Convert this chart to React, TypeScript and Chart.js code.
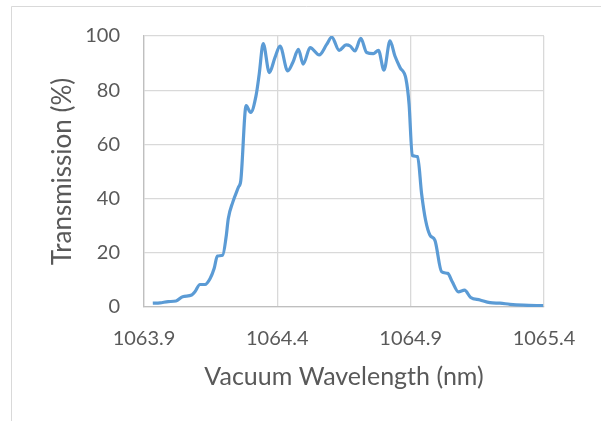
import React, { useEffect, useRef } from "react";
import { Chart, registerables } from "chart.js";

Chart.register(...registerables);

const wavelength = [
  1063.933, 1063.96, 1063.991, 1064.02, 1064.045, 1064.079, 1064.091, 1064.11, 1064.129, 1064.148,
  1064.163, 1064.175, 1064.195, 1064.208, 1064.216, 1064.233, 1064.254, 1064.263, 1064.283, 1064.3,
  1064.32, 1064.332, 1064.347, 1064.37, 1064.391, 1064.41, 1064.439, 1064.458, 1064.479, 1064.497,
  1064.523, 1064.557, 1064.585, 1064.604, 1064.632, 1064.658, 1064.673, 1064.691, 1064.713, 1064.735,
  1064.76, 1064.779, 1064.8, 1064.8225, 1064.841, 1064.86, 1064.8825, 1064.894, 1064.906, 1064.926,
  1064.941, 1064.956, 1064.9725, 1064.991, 1065.016, 1065.039, 1065.056, 1065.079, 1065.102, 1065.125,
  1065.16, 1065.1975, 1065.235, 1065.2725, 1065.3225, 1065.397,
];

const transmission = [
  1.4, 1.5, 2.0, 2.2, 3.8, 4.4, 5.6, 8.3, 8.3, 10.5,
  14.2, 18.8, 19.1, 25.9, 32.6, 38.7, 44.2, 46.7, 74.3, 71.8,
  77.9, 85.9, 97.2, 86.5, 92.0, 96.3, 87.1, 90.2, 95.1, 89.6,
  95.7, 93.0, 96.9, 99.6, 94.7, 96.7, 96.3, 94.5, 99.1, 93.9,
  93.5, 94.7, 87.4, 98.2, 92.6, 88.4, 84.1, 74.9, 55.9, 55.5,
  41.8, 32.0, 26.5, 24.6, 13.0, 12.4, 9.3, 5.6, 6.2, 3.5,
  2.6, 1.6, 1.4, 1.0, 0.7, 0.5,
];

const xTicks = [1063.9, 1064.4, 1064.9, 1065.4];
const yTicks = [0, 20, 40, 60, 80, 100];

const xTitle = "Vacuum Wavelength (nm)";
const yTitle = "Transmission (%)";

const FONT = "Lato, 'Open Sans', sans-serif";
const TEXT = "#595959";

const framePlugin = {
  id: "frame",
  beforeDraw(chart: any) {
    const ctx = chart.ctx;
    ctx.save();
    ctx.fillStyle = "#ffffff";
    ctx.fillRect(0, 0, chart.width, chart.height);
    ctx.strokeStyle = "#D9D9D9";
    ctx.lineWidth = 1;
    ctx.beginPath();
    ctx.moveTo(11.5, chart.height);
    ctx.lineTo(11.5, 6.5);
    ctx.lineTo(chart.width, 6.5);
    ctx.stroke();
    ctx.restore();
  },
};

export default function App() {
  const ref = useRef<HTMLCanvasElement | null>(null);

  useEffect(() => {
    if (!ref.current) return;
    const chart = new Chart(ref.current, {
      type: "line",
      data: {
        datasets: [
          {
            data: wavelength.map((w, i) => ({ x: w, y: transmission[i] })),
            borderColor: "#5B9BD5",
            backgroundColor: "#5B9BD5",
            borderWidth: 3.2,
            pointRadius: 0,
            cubicInterpolationMode: "monotone",
            fill: false,
          },
        ],
      },
      options: {
        animation: false,
        responsive: false,
        maintainAspectRatio: false,
        layout: { padding: { left: 0, top: 35, right: 57, bottom: 0 } },
        plugins: { legend: { display: false }, tooltip: { enabled: false } },
        scales: {
          x: {
            type: "linear",
            min: 1063.9,
            max: 1065.4,
            afterBuildTicks: (s: any) => {
              s.ticks = xTicks.map((v) => ({ value: v }));
            },
            afterFit: (s: any) => {
              s.height = 114;
            },
            grid: { color: "#D9D9D9", lineWidth: 1.3, drawTicks: false },
            border: { color: "#BFBFBF", width: 1.3 },
            ticks: {
              color: TEXT,
              font: { family: FONT, size: 20 },
              padding: 20,
              maxRotation: 0,
              callback: (v: any) => Number(v).toFixed(1),
            },
            title: {
              display: true,
              text: xTitle,
              color: TEXT,
              font: { family: FONT, size: 25 },
              padding: { top: 0, bottom: 29 },
            },
          },
          y: {
            min: 0,
            max: 100,
            afterBuildTicks: (s: any) => {
              s.ticks = yTicks.map((v) => ({ value: v }));
            },
            afterFit: (s: any) => {
              s.width = 144;
            },
            grid: { color: "#D9D9D9", lineWidth: 1.3, drawTicks: false },
            border: { color: "#BFBFBF", width: 1.3 },
            ticks: {
              color: TEXT,
              font: { family: FONT, size: 20 },
              padding: 24,
            },
            title: {
              display: true,
              text: yTitle,
              color: TEXT,
              font: { family: FONT, size: 26 },
              padding: { top: 47, bottom: 0 },
            },
          },
        },
      },
      plugins: [framePlugin],
    });
    return () => chart.destroy();
  }, []);

  return (
    <div style={{ position: "fixed", left: 0, top: 0, width: 601, height: 421, background: "#fff" }}>
      <canvas ref={ref} width={601} height={421} style={{ width: 601, height: 421, display: "block" }} />
    </div>
  );
}
